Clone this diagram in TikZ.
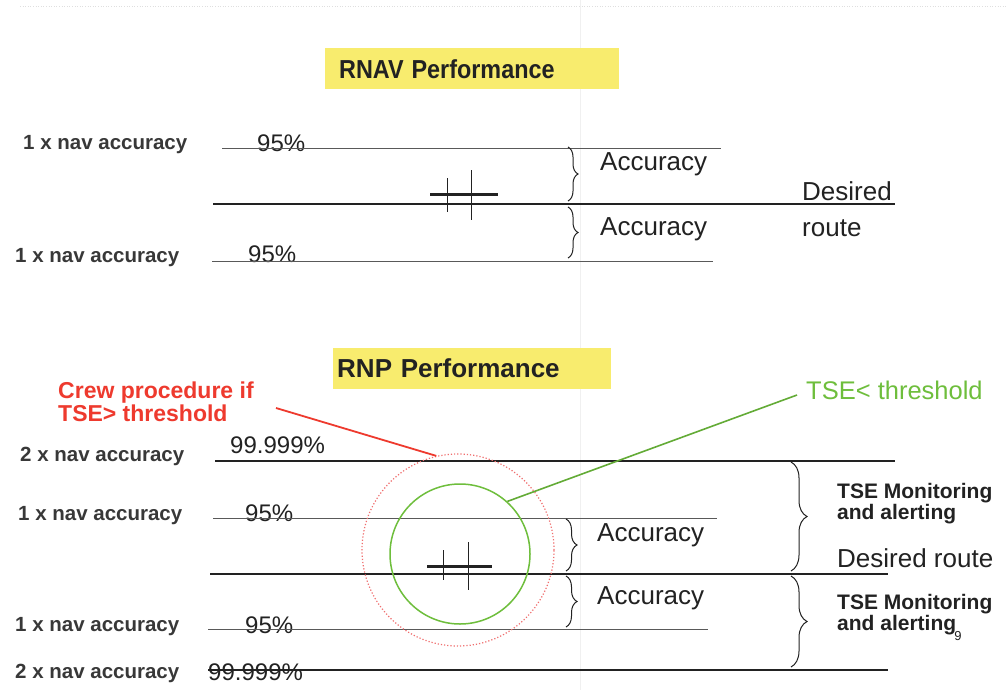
\documentclass[tikz,border=0pt]{standalone}
\usepackage{fontspec}
\setmainfont{Liberation Sans}
\usetikzlibrary{decorations.pathreplacing}
\definecolor{titleyellow}{RGB}{248,236,110}
\definecolor{crewred}{RGB}{238,58,46}
\definecolor{ringred}{RGB}{240,110,110}
\definecolor{tsegreen}{RGB}{110,190,60}
\definecolor{ink}{RGB}{34,34,34}
\newcommand{\fs}[1]{\fontsize{#1}{#1}\selectfont}
\tikzset{
  title/.style={fill=titleyellow, anchor=west, text width=#1, align=left,
    inner xsep=14pt, minimum height=41pt, font=\bfseries\fs{26}, text=ink},
  side/.style={anchor=west, inner sep=0pt, font=\bfseries\fs{20.5}, text=ink!90},
  pct/.style={anchor=west, inner sep=0pt, font=\fs{24}, text=ink},
  big/.style={anchor=west, inner sep=0pt, font=\fs{26}, text=ink},
  mon/.style={anchor=west, inner sep=0pt, font=\bfseries\fs{21}, align=left, text=ink},
  thinline/.style={line width=0.9pt, draw=ink!75},
  routeline/.style={line width=1.5pt, draw=ink},
  brc/.style={decorate, decoration={brace, amplitude=#1}, line width=1pt, draw=ink},
  craft/.style={line width=1pt, draw=ink},
}
\begin{document}
\begin{tikzpicture}[x=1pt, y=-1pt]
\useasboundingbox (0,0) rectangle (1008,690);
\fill[white] (0,0) rectangle (1008,690);
% faint scan marks of the page
\draw[gray!25, line width=0.6pt, dotted] (20,6) -- (1008,6);
\draw[gray!12, line width=0.6pt] (580,0) -- (580,690);

% ---------------- RNAV ----------------
\node[title=266pt] (rnav) at (325,69) {\scalebox{0.9}[1]{RNAV Performance}};

\node[side] (l1) at (23,145) {1 x nav accuracy};
\node[side] (l2) at (15,258) {1 x nav accuracy};
\node[pct] (p1) at (257,143) {95\%};
\node[pct] (p2) at (248,254) {95\%};

\coordinate (ra1) at (222,148); \coordinate (rb1) at (721,148);
\coordinate (ra0) at (213,204); \coordinate (rb0) at (895,204);
\coordinate (ra2) at (212,261); \coordinate (rb2) at (713,261);
\draw[thinline] (ra1) -- (rb1);
\draw[routeline] (ra0) -- (rb0);
\draw[thinline] (ra2) -- (rb2);

\coordinate (rbr1a) at (568,147); \coordinate (rbr1b) at (568,201);
\coordinate (rbr2a) at (568,207); \coordinate (rbr2b) at (568,258);
\draw[brc=10pt] (rbr1a) -- (rbr1b);
\draw[brc=10pt] (rbr2a) -- (rbr2b);
\node[big] (acc1) at (600,164) {Accuracy};
\node[big] (acc2) at (600,229) {Accuracy};
\node[big] (des1) at (802,191) {Desired};
\node[big] (rt1) at (802,228) {route};

% aircraft mark
\draw[line width=3pt, draw=ink] (430,194) -- (498,194);
\draw[craft] (447,178) -- (447,212);
\draw[craft] (471,170) -- (471,220);

% ---------------- RNP ----------------
\node[title=270pt, inner xsep=4pt] (rnp) at (333,368) {RNP Performance};

\node[side] (m1) at (20,456) {2 x nav accuracy};
\node[side] (m2) at (18,516) {1 x nav accuracy};
\node[side] (m3) at (15,627) {1 x nav accuracy};
\node[side] (m4) at (15,673) {2 x nav accuracy};
\node[pct] (q1) at (230,445) {99.999\%};
\node[pct] (q2) at (245,513) {95\%};
\node[pct] (q3) at (245,625) {95\%};
\node[pct] (q4) at (208,672) {99.999\%};

\coordinate (sa1) at (215,461); \coordinate (sb1) at (895,461);
\coordinate (sa2) at (213,518); \coordinate (sb2) at (717,518);
\coordinate (sa0) at (210,574); \coordinate (sb0) at (888,574);
\coordinate (sa3) at (208,629); \coordinate (sb3) at (708,629);
\coordinate (sa4) at (208,670); \coordinate (sb4) at (888,670);
\draw[routeline] (sa1) -- (sb1);
\draw[thinline] (sa2) -- (sb2);
\draw[routeline] (sa0) -- (sb0);
\draw[thinline] (sa3) -- (sb3);
\draw[routeline] (sa4) -- (sb4);

% small braces
\coordinate (sbr1a) at (566,519); \coordinate (sbr1b) at (566,571);
\coordinate (sbr2a) at (566,576); \coordinate (sbr2b) at (566,627);
\draw[brc=11pt] (sbr1a) -- (sbr1b);
\draw[brc=11pt] (sbr2a) -- (sbr2b);
\node[big] (acc3) at (597,535) {Accuracy};
\node[big] (acc4) at (597,598) {Accuracy};

% large braces
\coordinate (bbr1a) at (791,462); \coordinate (bbr1b) at (791,571);
\coordinate (bbr2a) at (791,576); \coordinate (bbr2b) at (791,667);
\draw[brc=16pt] (bbr1a) -- (bbr1b);
\draw[brc=16pt] (bbr2a) -- (bbr2b);
\node[mon] (mon1) at (837,504) {\baselineskip=19pt TSE Monitoring\\and alerting};
\node[big] (des2) at (837,558) {Desired route};
\node[mon] (mon2) at (837,615) {\baselineskip=19pt TSE Monitoring\\and alerting};
\node[anchor=center, inner sep=0pt, font=\fs{13}, text=ink] (pg) at (958,636) {9};

% rings round the aircraft
\node[circle, draw=ringred, line width=1.2pt, dotted, minimum size=192pt, inner sep=0pt] (redc) at (458,550) {};
\node[circle, draw=tsegreen, line width=1.5pt, minimum size=140pt, inner sep=0pt] (greenc) at (460,554) {};

% aircraft mark
\draw[line width=3pt, draw=ink] (427,566) -- (492,566);
\draw[craft] (443,550) -- (443,580);
\draw[craft] (468,542) -- (468,590);

% annotations
\node[anchor=west, inner sep=0pt, font=\bfseries\fs{23}, text=crewred, align=left] (crew) at (58,402)
  {\baselineskip=31pt Crew procedure if\\TSE> threshold};
\coordinate (crewtail) at (276,408);
\draw[crewred, line width=1.8pt] (crewtail) -- (redc.103);

\node[anchor=west, inner sep=0pt, font=\fs{25.5}, text=tsegreen] (tse) at (806,390) {TSE< threshold};
\coordinate (tsetail) at (797,395);
\draw[tsegreen!90!black, line width=1.6pt] (greenc.48) -- (tsetail);
\end{tikzpicture}
\end{document}
